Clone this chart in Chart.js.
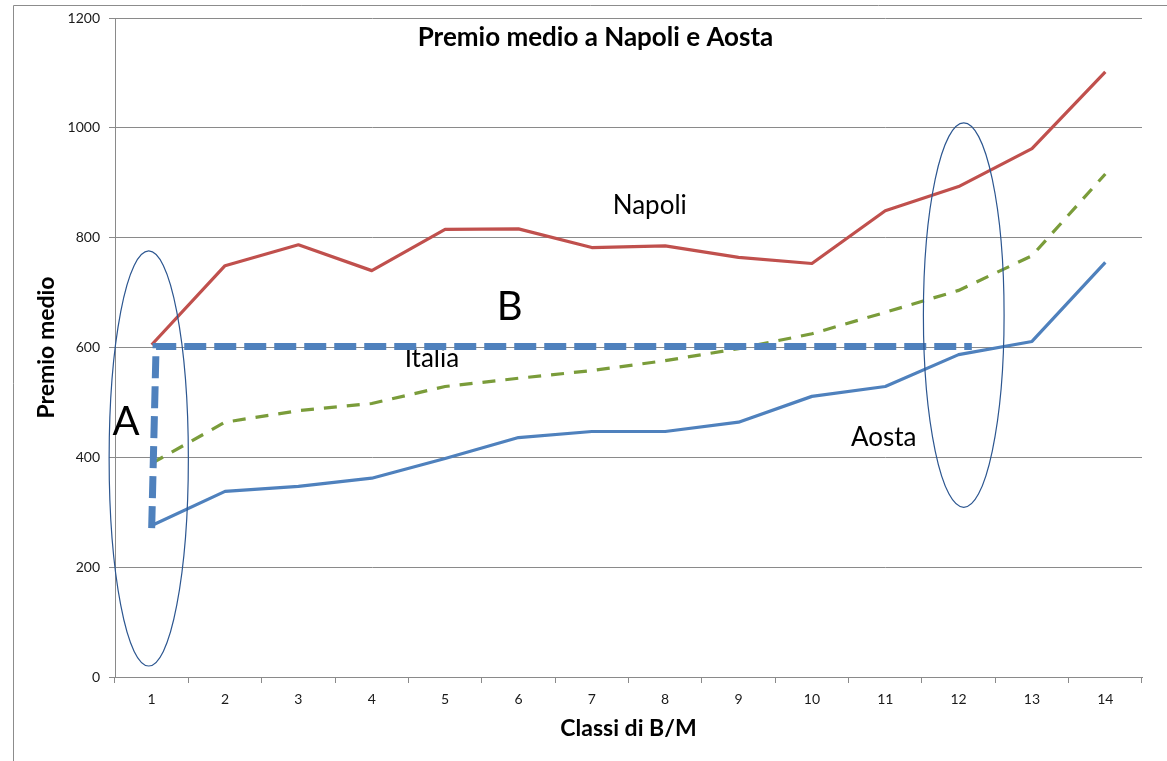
<!DOCTYPE html>
<html>
<head>
<meta charset="utf-8">
<title>Premio medio a Napoli e Aosta</title>
<script src="https://cdn.jsdelivr.net/npm/chart.js@4/dist/chart.umd.min.js"></script>
<style>
  html, body { margin: 0; padding: 0; background: #fff; }
  #wrap { width: 1167px; height: 761px; position: relative; }
</style>
</head>
<body>
<div id="wrap"><canvas id="c" width="1167" height="761"></canvas></div>
<script>
// Classi di bonus/malus
const classi = ['1', '2', '3', '4', '5', '6', '7', '8', '9', '10', '11', '12', '13', '14'];

// Premio medio per classe
const napoli = [605, 749, 787, 740, 815, 816, 782, 785, 764, 753, 849, 893, 962, 1102];
const italia = [389, 464, 485, 498, 529, 544, 558, 576, 598, 625, 664, 704, 767, 916];
const aosta  = [276, 338, 347, 362, 398, 436, 447, 447, 464, 511, 529, 587, 611, 755];

// Tick dell'asse verticale
const yTicks = [0, 200, 400, 600, 800, 1000, 1200];

// Percorso "A" (salita) e "B" (orizzontale a 600)
const percorsoX = [1.0, 1.06, 12.18];
const percorsoY = [271, 602, 602];

// Ellissi di evidenziazione: centro e semiassi in unità degli assi
const ellissi = [
  { cx: 0.96, cy: 398, rx: 0.54, ry: 378 },
  { cx: 12.07, cy: 659, rx: 0.55, ry: 350 }
];

// Etichette nel grafico
const etichette = [
  { text: 'Napoli', x: 7.79, y: 858, size: 26 },
  { text: 'Italia', x: 4.82, y: 580, size: 26 },
  { text: 'Aosta',  x: 10.98, y: 436, size: 26 },
  { text: 'A',      x: 0.65, y: 465, size: 40 },
  { text: 'B',      x: 5.88, y: 673, size: 40 }
];

const FONT = 'Lato, "Open Sans", "DejaVu Sans", sans-serif';
const GRID = '#8a8a8a';

const cornice = {
  id: 'cornice',
  beforeDraw(chart) {
    const ctx = chart.ctx;
    ctx.save();
    ctx.strokeStyle = '#8c8c8c';
    ctx.lineWidth = 1;
    ctx.beginPath();
    ctx.moveTo(13.5, 761);
    ctx.lineTo(13.5, 5.5);
    ctx.lineTo(1167, 5.5);
    ctx.stroke();
    ctx.restore();
  },
  beforeDatasetsDraw(chart) {
    const ctx = chart.ctx;
    const sx = chart.scales.x2, sy = chart.scales.y;
    const area = chart.chartArea;
    ctx.save();
    ctx.fillStyle = '#000';
    ctx.textAlign = 'center';
    ctx.textBaseline = 'middle';
    ctx.font = 'bold 26px ' + FONT;
    ctx.fillText('Premio medio a Napoli e Aosta', (area.left + area.right) / 2 - 33, 38);
    etichette.forEach(e => {
      ctx.font = e.size + 'px ' + FONT;
      ctx.fillText(e.text, sx.getPixelForValue(e.x), sy.getPixelForValue(e.y));
    });
    ctx.restore();
  },
  afterDatasetsDraw(chart) {
    const ctx = chart.ctx;
    const sx = chart.scales.x2, sy = chart.scales.y;
    ctx.save();
    ctx.strokeStyle = '#2c5690';
    ctx.lineWidth = 1.2;
    ellissi.forEach(el => {
      const cx = sx.getPixelForValue(el.cx);
      const cy = sy.getPixelForValue(el.cy);
      const rx = Math.abs(sx.getPixelForValue(el.cx + el.rx) - cx);
      const ry = Math.abs(sy.getPixelForValue(el.cy + el.ry) - cy);
      ctx.beginPath();
      ctx.ellipse(cx, cy, rx, ry, 0, 0, Math.PI * 2);
      ctx.stroke();
    });
    ctx.restore();
  }
};

new Chart(document.getElementById('c'), {
  type: 'line',
  data: {
    labels: classi,
    datasets: [
      {
        label: 'Napoli', data: napoli,
        borderColor: '#c0504d', borderWidth: 3.2, pointRadius: 0,
        borderJoinStyle: 'round', tension: 0, order: 3
      },
      {
        label: 'Italia', data: italia,
        borderColor: '#7a9c3a', borderWidth: 3.2, borderDash: [13, 10], pointRadius: 0,
        tension: 0, order: 2
      },
      {
        label: 'Aosta', data: aosta,
        borderColor: '#4f81bd', borderWidth: 3.2, pointRadius: 0,
        borderJoinStyle: 'round', tension: 0, order: 1
      },
      {
        label: 'Percorso', xAxisID: 'x2',
        data: percorsoX.map((x, i) => ({ x: x, y: percorsoY[i] })),
        borderColor: '#4f81bd', borderWidth: 7, borderDash: [22, 8], pointRadius: 0,
        borderJoinStyle: 'miter', borderCapStyle: 'butt', tension: 0, order: 0
      }
    ]
  },
  options: {
    responsive: false,
    animation: false,
    devicePixelRatio: 1,
    layout: { padding: { left: 0, top: 18, right: 25, bottom: 0 } },
    plugins: { legend: { display: false }, tooltip: { enabled: false }, title: { display: false } },
    scales: {
      x: {
        type: 'category',
        offset: true,
        grid: { offset: true, drawOnChartArea: false, drawTicks: true, tickLength: 6, color: GRID },
        border: { color: GRID, width: 1 },
        ticks: { color: '#1a1a1a', font: { family: FONT, size: 14 }, padding: 8, maxRotation: 0 },
        title: {
          display: true, text: 'Classi di B/M', color: '#000',
          font: { family: FONT, size: 23, weight: 'bold' }, padding: { top: 0, bottom: 19 }
        },
        afterFit(s) { s.height = 84; }
      },
      x2: {
        type: 'linear', display: false, min: 0.5, max: 14.5, position: 'bottom'
      },
      y: {
        min: 0, max: 1200,
        afterBuildTicks(s) { s.ticks = yTicks.map(v => ({ value: v })); },
        grid: { color: GRID, tickLength: 6, drawTicks: true },
        border: { color: GRID, width: 1 },
        ticks: {
          color: '#1a1a1a', font: { family: FONT, size: 14 }, padding: 9,
          callback: v => String(v)
        },
        title: {
          display: true, text: 'Premio medio', color: '#000',
          font: { family: FONT, size: 23, weight: 'bold' }, padding: { top: 33, bottom: 0 }
        },
        afterFit(s) { s.width = 115; }
      }
    }
  },
  plugins: [cornice]
});
</script>
</body>
</html>
